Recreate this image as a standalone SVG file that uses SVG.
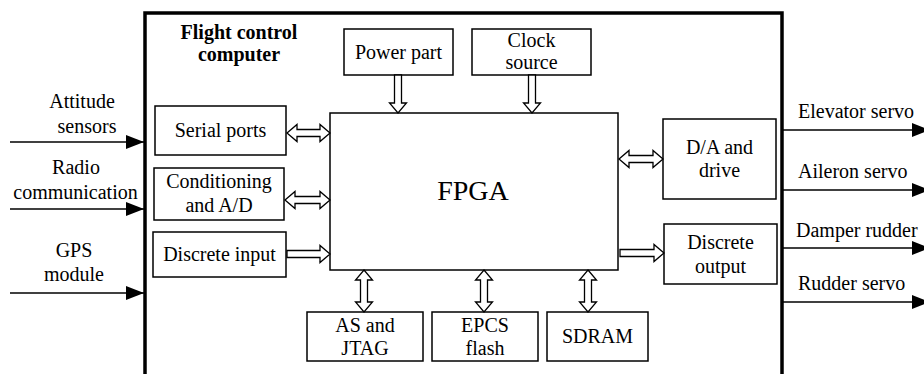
<svg xmlns="http://www.w3.org/2000/svg" width="924" height="374" viewBox="0 0 924 374">
  <style>
    .t { font-family: 'Liberation Serif', 'Times New Roman', Times, serif; font-size: 20px; fill: #000; }
    .c { text-anchor: middle; }
    .bold { font-weight: bold; }
    .box { fill: #fff; stroke: #000; stroke-width: 1.5; }
    .frame { fill: none; stroke: #000; stroke-width: 3.5; }
    .bus { fill: #fff; stroke: #000; stroke-width: 1.3; stroke-linejoin: miter; }
    .sig { fill: none; stroke: #000; stroke-width: 1.5; }
  </style>
  <defs>
    <marker id="head" viewBox="0 0 18 14" refX="18" refY="7" markerWidth="18" markerHeight="14" markerUnits="userSpaceOnUse" orient="auto">
      <path d="M0,0 L18,7 L0,14 Z" fill="#000"/>
    </marker>
  </defs>
  <rect width="924" height="374" fill="#fff"/>

  <g class="t">
  <!-- flight control computer enclosure -->
  <g id="fcc">
    <rect class="frame" x="145" y="13" width="637" height="400"/>
    <text class="c bold" x="239" y="39">Flight control</text>
    <text class="c bold" x="239" y="61">computer</text>
  </g>

  <g id="fpga">
    <rect class="box" x="330" y="113" width="288" height="157"/>
    <text class="c" x="473" y="200" font-size="28">FPGA</text>
  </g>

  <g id="power">
    <rect class="box" x="344" y="29" width="109" height="46"/>
    <text class="c" x="398.5" y="59">Power part</text>
  </g>

  <g id="clock">
    <rect class="box" x="472" y="29" width="119" height="46"/>
    <text class="c" x="531.5" y="47">Clock</text>
    <text class="c" x="531.5" y="69">source</text>
  </g>

  <g id="serial">
    <rect class="box" x="155" y="106" width="131" height="49"/>
    <text class="c" x="220.5" y="137">Serial ports</text>
  </g>

  <g id="conditioning">
    <rect class="box" x="154" y="168" width="130" height="52"/>
    <text class="c" x="219" y="188">Conditioning</text>
    <text class="c" x="219" y="212">and A/D</text>
  </g>

  <g id="discrete-in">
    <rect class="box" x="153" y="232" width="133" height="45"/>
    <text class="c" x="219.5" y="261">Discrete input</text>
  </g>

  <g id="da">
    <rect class="box" x="663" y="119" width="113" height="80"/>
    <text class="c" x="719.5" y="154">D/A and</text>
    <text class="c" x="719.5" y="177">drive</text>
  </g>

  <g id="discrete-out">
    <rect class="box" x="664" y="224" width="113" height="60"/>
    <text class="c" x="720.5" y="249">Discrete</text>
    <text class="c" x="720.5" y="273">output</text>
  </g>

  <g id="as-jtag">
    <rect class="box" x="307" y="312" width="116" height="49"/>
    <text class="c" x="365" y="332">AS and</text>
    <text class="c" x="365" y="355">JTAG</text>
  </g>

  <g id="epcs">
    <rect class="box" x="432" y="312" width="106" height="49"/>
    <text class="c" x="485" y="332">EPCS</text>
    <text class="c" x="485" y="355">flash</text>
  </g>

  <g id="sdram">
    <rect class="box" x="547" y="312" width="101" height="49"/>
    <text class="c" x="597.5" y="343">SDRAM</text>
  </g>

  <!-- external signal labels -->
  <g id="inputs-labels">
    <text class="c" x="82" y="108">Attitude</text>
    <text class="c" x="87" y="133">sensors</text>
    <text class="c" x="76" y="174">Radio</text>
    <text class="c" x="75.5" y="199">communication</text>
    <text class="c" x="74" y="257">GPS</text>
    <text class="c" x="74" y="281">module</text>
  </g>
  <g id="outputs-labels">
    <text x="798" y="118">Elevator servo</text>
    <text x="798" y="178">Aileron servo</text>
    <text x="796" y="237">Damper rudder</text>
    <text x="798" y="290">Rudder servo</text>
  </g>
  </g>

  <g id="connectors">
    <!-- sensor inputs -->
    <line class="sig" x1="10" y1="142" x2="144" y2="142" marker-end="url(#head)"/>
    <line class="sig" x1="10" y1="209" x2="144" y2="209" marker-end="url(#head)"/>
    <line class="sig" x1="10" y1="293" x2="144" y2="293" marker-end="url(#head)"/>
    <!-- servo outputs -->
    <line class="sig" x1="783" y1="130" x2="930" y2="130" marker-end="url(#head)"/>
    <line class="sig" x1="783" y1="190" x2="930" y2="190" marker-end="url(#head)"/>
    <line class="sig" x1="783" y1="248" x2="930" y2="248" marker-end="url(#head)"/>
    <line class="sig" x1="783" y1="302" x2="930" y2="302" marker-end="url(#head)"/>

    <!-- hollow bus arrows -->
    <path class="bus" d="M287,133 L297,124.5 L297,129.5 L320,129.5 L320,124.5 L330,133 L320,141.5 L320,136.5 L297,136.5 L297,141.5 Z"/>
    <path class="bus" d="M285,200 L295,191.5 L295,196.5 L320,196.5 L320,191.5 L330,200 L320,208.5 L320,203.5 L295,203.5 L295,208.5 Z"/>
    <path class="bus" d="M287,250.5 L320,250.5 L320,245.5 L330,254 L320,262.5 L320,257.5 L287,257.5 Z"/>
    <path class="bus" d="M619,159 L629,150.5 L629,155.5 L653,155.5 L653,150.5 L663,159 L653,167.5 L653,162.5 L629,162.5 L629,167.5 Z"/>
    <path class="bus" d="M620,249.5 L654,249.5 L654,244.5 L664,253 L654,261.5 L654,256.5 L620,256.5 Z"/>
    <path class="bus" d="M394.5,75 L394.5,103 L389.5,103 L398,113 L406.5,103 L401.5,103 L401.5,75 Z"/>
    <path class="bus" d="M528.5,75 L528.5,103 L523.5,103 L532,113 L540.5,103 L535.5,103 L535.5,75 Z"/>
    <path class="bus" d="M364,270 L372.5,280 L367.5,280 L367.5,302 L372.5,302 L364,312 L355.5,302 L360.5,302 L360.5,280 L355.5,280 Z"/>
    <path class="bus" d="M484,270 L492.5,280 L487.5,280 L487.5,302 L492.5,302 L484,312 L475.5,302 L480.5,302 L480.5,280 L475.5,280 Z"/>
    <path class="bus" d="M588,270 L596.5,280 L591.5,280 L591.5,302 L596.5,302 L588,312 L579.5,302 L584.5,302 L584.5,280 L579.5,280 Z"/>
  </g>
</svg>
